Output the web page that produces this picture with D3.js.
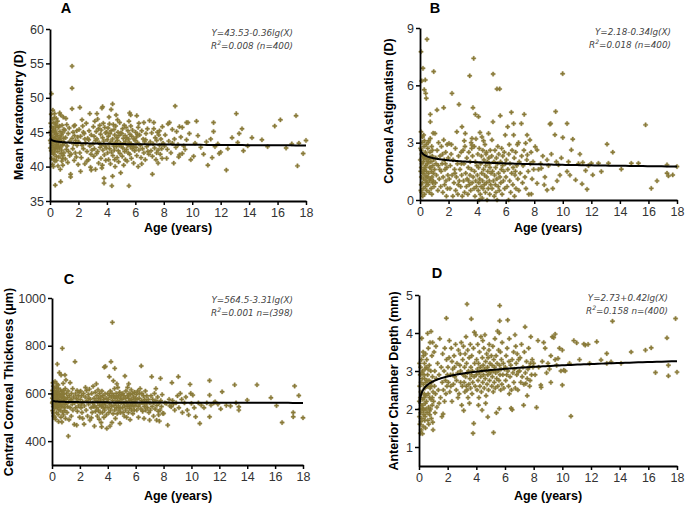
<!DOCTYPE html>
<html><head><meta charset="utf-8">
<script src="https://cdn.jsdelivr.net/npm/d3@7"></script>
<style>body{margin:0;background:#fff}svg{display:block}</style>
</head><body>
<svg id="c" width="685" height="505"></svg>
<script>
// ---------- DATA ----------
const xTicks = [0,2,4,6,8,10,12,14,16,18];
const keratometryTicks = [35,40,45,50,55,60];
const astigmatismTicks = [0,3,6,9];
const thicknessTicks = [400,600,800,1000];
const acdTicks = [1,2,3,4,5];

// regression: Y = a + b*lg(X)
const fitKeratometry = [43.53,-0.36];
const fitAstigmatism = [2.18,-0.34];
const fitThickness = [564.5,-3.31];
const fitAcd = [2.73,0.42];

const noteKeratometry = ["Y=43.53-0.36lg(X)","=0.008 (n=400)"];
const noteAstigmatism = ["Y=2.18-0.34lg(X)","=0.018 (n=400)"];
const noteThickness = ["Y=564.5-3.31lg(X)","=0.001 n=(398)"];
const noteAcd = ["Y=2.73+0.42lg(X)","=0.158 n=(400)"];

const keratometry = [
[0.02,43.8],[0.05,45.1],[0.08,42.3],[0.1,50.6],[0.1,44.6],[0.12,41.2],[0.15,46.9],[0.15,43.1],[0.18,40.3],[0.2,48.2],[0.2,44.2],[0.22,42.8],[0.25,45.6],[0.25,41.8],[0.28,43.5],[0.3,47.1],[0.3,44.9],[0.32,42.1],[0.33,47.7],[0.35,43.9],[0.35,40.8],[0.37,37.3],[0.38,45.3],[0.4,42.6],[0.4,44.4],[0.42,46.2],[0.44,41.5],[0.45,43.2],[0.47,44.8],[0.48,42.9],[0.05,46.3],[0.07,43.4],[0.12,45.8],[0.17,42.0],[0.22,43.6],[0.27,46.4],[0.3,41.0],[0.36,44.1],[0.41,45.9],[0.46,40.9],[0.03,42.7],[0.09,47.6],[0.14,44.0],[0.19,45.2],[0.24,40.0],[0.29,42.5],[0.34,45.0],[0.39,43.0],[0.44,47.0],[0.49,43.7],
[0.52,44.5],[0.55,42.2],[0.56,40.1],[0.58,45.7],[0.6,43.3],[0.62,41.4],[0.65,44.0],[0.68,47.8],[0.68,42.7],[0.7,45.1],[0.72,39.6],[0.75,37.8],[0.75,47.5],[0.75,43.8],[0.78,41.9],[0.8,44.6],[0.82,42.4],[0.85,46.0],[0.88,43.1],[0.9,40.2],[0.9,44.9],[0.92,41.6],[0.95,43.5],[0.97,45.4],[0.98,42.0],[0.53,46.6],[0.63,43.9],[0.73,44.3],[0.83,40.8],[0.93,47.2],[0.57,42.8],[0.67,45.9],[0.77,43.0],[0.87,41.2],[0.97,44.1],
[1.02,43.4],[1.05,45.3],[1.08,41.1],[1.1,44.2],[1.15,42.5],[1.18,46.1],[1.2,43.0],[1.25,40.6],[1.28,44.8],[1.3,42.2],[1.35,45.6],[1.4,43.7],[1.45,38.9],[1.45,38.5],[1.48,41.8],[1.55,54.6],[1.55,51.4],[1.55,48.4],[1.55,44.1],[1.6,42.6],[1.62,45.0],[1.65,43.3],[1.7,40.9],[1.72,44.5],[1.75,46.0],[1.78,42.0],[1.8,43.8],[1.85,41.4],[1.88,45.2],[1.9,43.1],[1.95,44.3],[1.98,40.3],[1.12,47.0],[1.38,41.6],[1.68,45.9],
[2.02,43.6],[2.05,45.4],[2.1,48.6],[2.1,42.0],[2.15,44.4],[2.2,41.3],[2.25,43.1],[2.3,45.9],[2.35,42.6],[2.4,44.8],[2.45,40.4],[2.5,43.4],[2.55,46.3],[2.6,42.2],[2.65,44.1],[2.7,41.0],[2.75,45.2],[2.8,47.7],[2.8,43.0],[2.85,39.9],[2.9,39.5],[2.9,44.6],[2.95,42.4],[2.25,46.8],[2.45,44.0],[2.6,40.8],[2.72,43.9],[2.15,39.3],[2.35,45.0],[2.88,41.8],
[3.02,43.3],[3.05,45.8],[3.08,41.5],[3.1,44.4],[3.12,42.6],[3.15,46.6],[3.2,39.6],[3.2,43.8],[3.25,45.1],[3.28,41.9],[3.3,47.7],[3.3,44.0],[3.35,42.2],[3.4,45.5],[3.42,40.5],[3.45,43.5],[3.5,46.0],[3.52,42.8],[3.55,44.7],[3.58,41.2],[3.6,45.3],[3.62,43.1],[3.65,39.8],[3.65,48.5],[3.7,48.7],[3.7,44.2],[3.72,42.4],[3.75,46.3],[3.78,43.7],[3.8,38.3],[3.8,37.6],[3.82,41.7],[3.85,45.7],[3.88,43.0],[3.9,44.9],[3.92,40.9],[3.95,42.7],[3.98,45.0],[3.35,46.9],[3.68,40.2],
[4.02,43.9],[4.05,42.0],[4.08,45.6],[4.1,44.4],[4.12,41.0],[4.15,43.2],[4.18,46.2],[4.2,42.6],[4.22,44.8],[4.25,40.4],[4.28,43.6],[4.3,48.3],[4.3,45.2],[4.32,42.1],[4.35,37.2],[4.4,49.1],[4.4,38.6],[4.4,44.0],[4.42,41.6],[4.45,46.1],[4.48,43.0],[4.5,45.4],[4.52,42.4],[4.55,44.6],[4.58,40.0],[4.6,43.5],[4.62,45.9],[4.65,47.5],[4.66,42.9],[4.7,44.2],[4.72,41.3],[4.75,43.8],[4.78,45.0],[4.8,42.3],[4.82,40.7],[4.85,44.5],[4.88,43.1],[4.9,46.4],[4.92,41.9],[4.95,43.4],[4.97,39.1],[4.98,44.9],[4.15,47.2],[4.55,41.0],[4.75,46.8],
[5.02,43.0],[5.05,44.8],[5.08,41.5],[5.1,45.5],[5.12,42.7],[5.15,44.1],[5.18,40.2],[5.2,43.4],[5.22,46.0],[5.25,42.2],[5.28,44.5],[5.3,41.0],[5.32,43.7],[5.35,45.7],[5.38,42.5],[5.4,44.2],[5.42,40.8],[5.45,43.1],[5.48,45.2],[5.5,42.0],[5.52,44.0],[5.55,37.2],[5.55,46.6],[5.58,43.5],[5.6,47.8],[5.6,41.8],[5.62,44.7],[5.65,42.9],[5.67,47.5],[5.68,45.9],[5.7,43.3],[5.72,41.2],[5.75,44.4],[5.78,42.6],[5.8,45.3],[5.85,43.0],[5.88,40.5],[5.9,44.0],[5.95,42.3],[5.98,43.8],
[6.02,45.0],[6.05,42.8],[6.08,44.3],[6.1,41.6],[6.1,47.4],[6.15,43.5],[6.2,40.0],[6.2,45.7],[6.25,42.4],[6.3,44.6],[6.35,43.1],[6.4,41.3],[6.45,45.2],[6.5,42.6],[6.55,44.0],[6.6,46.4],[6.6,42.0],[6.65,43.6],[6.7,41.0],[6.75,44.8],[6.8,42.9],[6.85,45.5],[6.9,43.2],[6.95,41.8],[7.0,46.7],[6.25,46.3],[6.45,40.4],[6.72,43.9],[6.88,42.2],[6.15,44.7],
[7.05,43.6],[7.1,42.3],[7.15,44.9],[7.2,38.9],[7.2,41.5],[7.25,43.3],[7.3,45.5],[7.35,42.7],[7.4,44.2],[7.45,41.0],[7.5,43.8],[7.55,45.0],[7.6,40.5],[7.6,42.4],[7.65,44.6],[7.7,43.1],[7.75,41.8],[7.8,44.0],[7.85,42.6],[7.9,45.8],[7.95,43.4],[7.3,46.4],[7.5,42.0],[7.7,45.2],[7.88,41.2],
[8.05,43.0],[8.1,44.6],[8.2,41.2],[8.25,42.5],[8.3,46.2],[8.35,43.7],[8.4,46.4],[8.5,42.0],[8.6,45.4],[8.6,43.4],[8.7,40.5],[8.75,44.0],[8.8,48.8],[8.85,42.8],[8.9,45.1],[9.0,43.2],[9.05,41.4],[9.1,45.8],[9.1,41.7],[9.2,44.3],[9.3,45.7],[9.3,41.9],[9.4,43.0],[9.5,42.5],[9.6,46.4],[9.6,43.9],[9.7,46.4],[9.8,44.8],[9.9,41.0],
[10.1,41.5],[10.2,43.4],[10.3,46.6],[10.4,44.5],[10.6,42.8],[10.8,41.8],[11.0,43.6],[11.1,40.2],[11.3,44.0],[11.4,41.3],[11.5,46.4],[11.5,45.1],[11.6,42.9],[11.8,43.3],[11.9,41.9],[12.0,42.1],
[12.4,39.5],[12.5,42.6],[12.8,44.2],[13.1,47.7],[13.2,43.5],[13.3,44.8],[13.5,45.5],[13.6,42.3],[13.9,43.0],
[14.2,44.2],[14.9,43.9],[15.3,42.9],[15.8,45.9],[16.2,46.8],[16.6,42.7],[17.0,43.3],[17.3,47.4],[17.4,40.1],[17.5,43.4],[17.8,41.9],[18.0,43.8]
];

const astigmatism = [
[0.02,2.1],[0.05,1.5],[0.07,7.76],[0.07,3.57],[0.08,0.8],[0.1,2.6],[0.1,1.2],[0.12,6.23],[0.12,0.4],[0.14,1.9],[0.15,3.0],[0.16,0.9],[0.18,2.3],[0.2,1.4],[0.21,6.89],[0.22,0.6],[0.24,2.0],[0.26,3.4],[0.26,1.1],[0.28,2.8],[0.3,5.77],[0.3,1.6],[0.32,0.3],[0.34,2.2],[0.35,1.3],[0.37,6.28],[0.37,2.5],[0.38,0.7],[0.4,5.58],[0.4,1.8],[0.42,1.0],[0.44,5.32],[0.44,2.9],[0.45,1.5],[0.47,0.5],[0.48,2.1],[0.49,8.41],[0.49,1.2],[0.04,2.7],[0.09,1.7],[0.13,2.4],[0.19,0.2],[0.23,1.5],[0.27,2.2],[0.31,3.1],[0.36,1.7],[0.41,2.4],[0.46,0.9],[0.06,0.5],[0.17,3.3],
[0.52,1.9],[0.55,2.7],[0.57,0.8],[0.6,1.4],[0.62,3.1],[0.64,2.2],[0.65,0.4],[0.68,1.7],[0.7,2.5],[0.72,4.48],[0.72,4.09],[0.72,3.22],[0.74,1.1],[0.76,2.0],[0.78,0.6],[0.8,1.5],[0.82,2.8],[0.84,1.2],[0.86,2.3],[0.88,0.9],[0.9,1.8],[0.92,3.5],[0.94,1.4],[0.96,6.72],[0.96,2.1],[0.98,0.7],[0.54,1.2],[0.59,2.0],[0.66,1.0],[0.75,1.7],[0.83,0.3],[0.87,2.6],[0.93,1.0],[0.58,3.0],[0.69,2.2],
[1.02,1.6],[1.05,3.48],[1.08,0.9],[1.1,2.2],[1.15,1.3],[1.19,4.71],[1.2,2.6],[1.25,0.5],[1.28,1.8],[1.3,3.0],[1.35,1.1],[1.4,2.3],[1.45,0.7],[1.48,1.5],[1.5,2.8],[1.55,1.9],[1.6,0.4],[1.62,1.2],[1.66,4.83],[1.66,3.14],[1.7,2.1],[1.72,0.8],[1.75,1.6],[1.8,2.5],[1.82,1.0],[1.85,0.2],[1.88,1.7],[1.9,2.9],[1.95,1.3],[1.98,2.2],[1.12,1.9],[1.38,1.6],[1.58,2.4],[1.78,1.9],[1.92,0.6],
[2.03,2.96],[2.05,1.1],[2.1,0.6],[2.12,1.8],[2.18,2.4],[2.24,5.58],[2.25,1.3],[2.3,0.2],[2.32,2.1],[2.38,0.9],[2.42,1.6],[2.48,2.7],[2.5,0.5],[2.55,1.2],[2.58,3.57],[2.62,1.9],[2.65,0.3],[2.7,2.3],[2.73,5.0],[2.75,1.0],[2.8,1.6],[2.85,0.7],[2.88,2.5],[2.92,1.3],[2.94,3.83],[2.96,0.2],[2.2,2.9],[2.45,1.4],[2.68,0.8],[2.9,1.9],
[3.02,2.6],[3.05,1.0],[3.08,1.9],[3.12,0.4],[3.15,2.8],[3.17,3.48],[3.2,1.4],[3.25,0.7],[3.28,2.2],[3.3,1.1],[3.35,0.3],[3.38,1.7],[3.42,2.5],[3.45,0.8],[3.48,6.5],[3.5,1.3],[3.52,2.0],[3.55,0.5],[3.58,3.0],[3.6,1.6],[3.64,3.22],[3.64,2.87],[3.65,0.9],[3.68,2.3],[3.71,4.83],[3.72,1.2],[3.76,7.41],[3.78,0.6],[3.8,2.8],[3.82,1.5],[3.85,0.2],[3.88,4.48],[3.88,2.0],[3.9,1.0],[3.92,3.2],[3.95,0.7],[3.98,1.8],[3.1,3.1],[3.4,1.0],[3.62,2.7],
[4.02,1.3],[4.05,2.4],[4.08,0.5],[4.1,4.36],[4.1,1.7],[4.12,0.9],[4.15,2.7],[4.18,1.1],[4.2,3.53],[4.22,0.3],[4.25,1.9],[4.28,0.7],[4.3,2.3],[4.32,1.4],[4.34,3.3],[4.35,0.1],[4.38,1.0],[4.4,2.6],[4.42,0.6],[4.45,1.6],[4.48,2.1],[4.5,0.8],[4.52,1.3],[4.55,2.9],[4.58,0.4],[4.6,1.8],[4.62,2.4],[4.65,0.9],[4.68,1.2],[4.7,0.0],[4.72,2.0],[4.75,1.5],[4.78,0.6],[4.8,3.48],[4.82,2.2],[4.85,1.0],[4.88,0.3],[4.9,1.7],[4.92,2.6],[4.95,0.8],[4.98,1.4],[4.15,0.0],[4.45,3.1],[4.65,2.5],[4.85,1.9],
[5.02,2.3],[5.04,3.14],[5.05,0.6],[5.08,1.5],[5.11,4.09],[5.12,6.59],[5.14,1.0],[5.18,2.0],[5.2,0.2],[5.22,1.3],[5.25,2.6],[5.28,0.8],[5.3,1.7],[5.32,0.4],[5.35,2.2],[5.38,1.1],[5.39,5.81],[5.4,0.0],[5.42,1.9],[5.45,2.8],[5.48,0.7],[5.5,1.4],[5.52,2.4],[5.55,0.5],[5.58,5.81],[5.6,1.2],[5.62,4.41],[5.64,2.0],[5.66,0.9],[5.7,1.6],[5.72,2.7],[5.75,0.3],[5.78,1.8],[5.8,2.3],[5.84,1.0],[5.88,1.5],[5.9,2.5],[5.93,0.6],[5.97,3.4],[5.98,1.9],
[6.02,1.2],[6.05,2.1],[6.1,0.7],[6.14,3.83],[6.15,1.6],[6.2,0.0],[6.22,2.4],[6.28,1.0],[6.3,1.9],[6.35,0.4],[6.4,4.59],[6.42,1.4],[6.45,2.6],[6.5,0.8],[6.52,1.7],[6.56,4.0],[6.56,3.4],[6.6,2.2],[6.62,0.2],[6.65,1.3],[6.7,2.5],[6.72,0.6],[6.78,1.8],[6.82,2.9],[6.85,1.1],[6.9,3.0],[6.92,0.5],[6.95,2.0],[6.25,2.9],[6.68,1.5],
[7.02,1.4],[7.1,4.0],[7.12,2.3],[7.18,0.9],[7.22,1.8],[7.28,2.6],[7.3,4.48],[7.35,1.2],[7.4,2.97],[7.42,0.6],[7.48,2.1],[7.5,3.4],[7.52,2.36],[7.58,1.5],[7.62,0.3],[7.7,3.14],[7.72,1.9],[7.78,2.5],[7.8,0.31],[7.85,1.1],[7.92,2.0],[7.96,1.6],
[8.07,2.79],[8.2,2.62],[8.2,0.87],[8.3,1.6],[8.45,1.9],[8.5,1.66],[8.6,2.3],[8.7,0.79],[8.75,1.2],[8.9,2.1],[8.9,0.52],[9.0,1.8],[9.1,3.97],[9.15,4.0],[9.2,2.4],[9.3,0.6],[9.45,3.41],[9.5,4.63],[9.55,2.0],[9.7,1.84],[9.8,1.3],[9.99,6.61],[10.0,3.27],[9.9,2.2],[9.6,1.0],
[10.3,4.0],[10.3,1.49],[10.4,2.0],[10.6,2.62],[10.7,3.18],[10.9,1.05],[11.1,1.9],[11.35,0.84],[11.4,1.96],[11.6,1.54],[11.7,0.56],[11.8,1.8],[12.0,1.92],[10.5,1.3],[11.2,2.4],
[12.1,1.31],[12.5,1.92],[12.7,1.49],[13.1,2.92],[13.2,1.92],[13.5,2.5],[14.1,1.61],[14.8,1.92],[15.3,1.92],[15.8,3.93],[16.2,0.61],[16.6,1.0],[17.3,1.4],[17.3,1.84],[17.4,1.26],[17.7,1.31],[18.0,1.75]
];

const thickness = [
[0.02,560],[0.04,612],[0.05,528],[0.07,645],[0.08,590],[0.1,545],[0.1,630],[0.12,575],[0.13,505],[0.15,600],[0.16,555],[0.18,620],[0.2,538],[0.21,585],[0.22,650],[0.24,568],[0.25,492],[0.27,605],[0.28,548],[0.3,595],[0.31,625],[0.33,520],[0.35,578],[0.36,610],[0.38,723],[0.38,542],[0.4,590],[0.41,560],[0.43,635],[0.44,512],[0.45,621],[0.46,575],[0.48,598],[0.49,532],[0.03,580],[0.06,565],[0.09,598],[0.11,518],[0.14,572],[0.17,588],[0.19,500],[0.23,602],[0.26,560],[0.29,582],[0.32,548],[0.34,640],[0.37,565],[0.42,548],[0.47,482],[0.49,570],
[0.51,600],[0.53,687],[0.54,555],[0.56,590],[0.58,530],[0.6,615],[0.62,565],[0.64,500],[0.65,677],[0.66,582],[0.68,545],[0.7,608],[0.72,570],[0.74,789],[0.75,522],[0.77,595],[0.78,555],[0.8,642],[0.8,585],[0.82,510],[0.84,568],[0.86,600],[0.88,540],[0.9,580],[0.93,677],[0.94,555],[0.95,620],[0.97,495],[0.99,575],[0.57,548],[0.63,590],[0.71,480],[0.83,612],[0.92,528],
[1.0,656],[1.02,560],[1.05,598],[1.08,520],[1.1,582],[1.12,545],[1.17,421],[1.15,610],[1.2,565],[1.22,490],[1.25,590],[1.3,645],[1.3,540],[1.35,575],[1.38,505],[1.4,600],[1.45,555],[1.48,620],[1.5,530],[1.55,585],[1.6,470],[1.62,560],[1.65,733],[1.68,598],[1.7,540],[1.75,578],[1.77,467],[1.8,612],[1.82,525],[1.85,565],[1.88,590],[1.9,548],[1.95,605],[1.98,500],[1.4,572],
[2.02,575],[2.05,610],[2.08,540],[2.12,590],[2.15,520],[2.2,565],[2.25,600],[2.3,471],[2.32,548],[2.38,585],[2.4,625],[2.45,530],[2.5,570],[2.55,505],[2.6,595],[2.62,555],[2.68,618],[2.72,488],[2.75,575],[2.8,540],[2.85,600],[2.88,520],[2.92,560],[2.95,630],[2.98,545],[2.2,495],[2.48,612],[2.65,580],[2.82,498],[2.1,555],
[3.02,580],[3.04,463],[3.06,548],[3.1,605],[3.12,525],[3.15,570],[3.18,640],[3.2,540],[3.22,590],[3.25,505],[3.28,562],[3.3,615],[3.32,530],[3.35,578],[3.38,492],[3.4,550],[3.42,600],[3.45,520],[3.48,568],[3.5,585],[3.52,478],[3.55,545],[3.56,460],[3.58,610],[3.6,555],[3.62,520],[3.65,590],[3.68,540],[3.7,575],[3.72,500],[3.75,710],[3.75,560],[3.78,530],[3.8,598],[3.83,713],[3.85,548],[3.88,580],[3.9,510],[3.93,453],[3.96,565],
[4.0,600],[4.02,540],[4.05,575],[4.08,520],[4.11,670],[4.12,590],[4.15,555],[4.16,463],[4.18,610],[4.2,530],[4.23,733],[4.25,585],[4.28,545],[4.3,600],[4.33,898],[4.35,570],[4.38,515],[4.4,653],[4.42,590],[4.45,550],[4.48,620],[4.5,705],[4.5,530],[4.52,580],[4.55,495],[4.58,560],[4.6,600],[4.62,540],[4.65,585],[4.68,515],[4.7,570],[4.72,625],[4.75,548],[4.78,590],[4.8,530],[4.82,565],[4.85,605],[4.87,474],[4.88,540],[4.9,580],[4.92,520],[4.95,560],[4.98,595],[4.3,478],[4.65,640],
[5.02,575],[5.05,540],[5.08,600],[5.1,520],[5.12,560],[5.15,590],[5.18,505],[5.2,548],[5.23,673],[5.25,580],[5.28,530],[5.3,610],[5.32,565],[5.35,500],[5.38,545],[5.4,590],[5.42,625],[5.45,555],[5.48,520],[5.5,580],[5.52,600],[5.55,538],[5.58,570],[5.6,490],[5.62,595],[5.65,550],[5.68,615],[5.7,530],[5.72,575],[5.75,560],[5.78,600],[5.8,515],[5.82,545],[5.85,585],[5.88,565],[5.9,530],[5.92,605],[5.95,550],[5.98,578],[5.5,640],
[6.02,560],[6.05,595],[6.08,530],[6.1,575],[6.15,610],[6.18,545],[6.2,500],[6.25,580],[6.3,555],[6.32,620],[6.38,535],[6.4,715],[6.42,570],[6.45,600],[6.5,525],[6.52,560],[6.55,590],[6.6,495],[6.62,545],[6.65,575],[6.7,610],[6.72,530],[6.78,565],[6.8,590],[6.85,540],[6.9,575],[6.95,520],[7.0,488],[6.28,600],[6.75,555],
[7.02,560],[7.05,530],[7.1,590],[7.15,670],[7.18,545],[7.22,575],[7.28,505],[7.3,560],[7.35,600],[7.4,535],[7.45,570],[7.5,488],[7.52,550],[7.58,585],[7.62,525],[7.68,560],[7.7,484],[7.75,530],[7.78,663],[7.8,570],[7.85,545],[7.9,595],[7.95,516],[7.45,620],[7.65,510],
[8.0,516],[8.1,560],[8.2,558],[8.3,467],[8.4,575],[8.55,544],[8.6,645],[8.65,570],[8.7,555],[8.8,530],[8.9,560],[9.06,670],[9.1,540],[9.2,600],[9.3,575],[9.35,520],[9.5,560],[9.7,530],[9.8,510],[9.9,638],[9.95,600],[10.0,558],[9.6,585],[9.0,590],[8.45,548],
[10.1,593],[10.2,540],[10.3,502],[10.5,560],[10.6,474],[10.7,551],[10.9,540],[11.1,560],[11.3,654],[11.3,593],[11.3,502],[11.4,551],[11.6,560],[11.7,565],[11.9,555],[12.1,535],[12.2,607],
[12.5,550],[12.8,547],[13.1,636],[13.2,560],[13.4,544],[13.4,530],[14.0,572],[14.7,636],[15.7,582],[16.1,549],[16.5,478],[17.3,520],[17.3,502],[17.4,631],[17.7,591],[18.0,498]
];

const acd = [
[0.02,2.2],[0.03,1.8],[0.05,2.6],[0.06,1.6],[0.08,2.9],[0.09,1.36],[0.1,2.3],[0.11,3.1],[0.12,1.9],[0.14,1.67],[0.14,2.7],[0.15,2.1],[0.17,3.3],[0.18,2.4],[0.19,3.86],[0.2,1.75],[0.22,2.8],[0.23,2.0],[0.24,1.35],[0.25,3.0],[0.27,2.25],[0.28,1.55],[0.3,2.65],[0.31,3.4],[0.33,2.0],[0.34,1.85],[0.35,2.9],[0.37,2.4],[0.38,3.2],[0.4,1.7],[0.41,2.55],[0.42,3.05],[0.44,2.15],[0.45,1.5],[0.46,3.45],[0.48,2.7],[0.49,2.0],[0.04,3.2],[0.07,2.0],[0.13,2.45],[0.16,1.45],[0.21,2.95],[0.26,2.1],[0.29,3.5],[0.32,1.95],[0.36,2.3],[0.39,2.8],[0.43,1.8],[0.47,2.35],[0.5,3.1],
[0.52,2.2],[0.54,3.3],[0.56,1.9],[0.58,2.6],[0.6,3.99],[0.6,2.9],[0.62,1.7],[0.64,2.4],[0.65,3.6],[0.67,2.05],[0.68,1.6],[0.7,2.75],[0.72,3.15],[0.74,2.3],[0.75,1.85],[0.77,3.75],[0.78,2.55],[0.8,2.0],[0.82,3.0],[0.84,4.04],[0.84,2.25],[0.86,1.75],[0.88,2.7],[0.9,3.4],[0.92,2.1],[0.94,2.85],[0.95,3.75],[0.96,1.65],[0.98,1.45],[0.98,2.45],[0.55,2.75],[0.63,3.05],[0.73,1.95],[0.83,2.6],[0.93,2.3],
[1.02,2.2],[1.05,3.5],[1.08,2.6],[1.1,3.0],[1.15,2.4],[1.18,3.65],[1.2,2.8],[1.25,2.05],[1.3,3.2],[1.35,2.5],[1.4,2.9],[1.45,3.85],[1.5,2.3],[1.55,3.1],[1.6,1.8],[1.62,2.7],[1.65,3.45],[1.68,1.87],[1.7,2.5],[1.75,3.0],[1.78,2.2],[1.8,3.6],[1.85,2.75],[1.88,2.4],[1.91,4.39],[1.92,3.3],[1.95,2.6],[1.98,2.9],[1.4,2.15],[1.12,1.9],
[2.02,3.1],[2.05,2.7],[2.1,3.35],[2.15,2.45],[2.2,2.9],[2.25,3.6],[2.3,2.2],[2.35,3.05],[2.4,2.65],[2.45,3.4],[2.5,2.85],[2.55,3.7],[2.6,2.5],[2.65,3.2],[2.7,2.95],[2.75,3.55],[2.8,2.4],[2.85,3.15],[2.9,2.7],[2.95,3.75],[2.98,2.1],[2.12,3.8],[2.38,2.9],[2.62,2.75],[2.88,3.45],[2.22,2.6],[2.48,3.1],[2.72,2.3],[2.9,3.0],[2.3,3.25],
[3.02,2.6],[3.05,3.3],[3.08,2.9],[3.1,3.65],[3.12,1.96],[3.15,2.7],[3.18,3.1],[3.2,2.45],[3.22,3.45],[3.25,2.85],[3.28,3.9],[3.3,2.6],[3.32,3.2],[3.35,4.76],[3.35,2.5],[3.38,2.95],[3.4,3.55],[3.42,2.3],[3.45,3.0],[3.48,2.65],[3.5,3.35],[3.52,2.15],[3.55,2.8],[3.58,3.7],[3.6,2.55],[3.62,3.1],[3.65,4.37],[3.65,2.9],[3.68,3.4],[3.7,2.4],[3.72,3.0],[3.75,2.7],[3.77,1.36],[3.8,3.6],[3.82,1.62],[3.85,2.85],[3.86,4.02],[3.88,3.2],[3.92,2.6],[3.96,3.95],
[4.0,2.9],[4.02,3.3],[4.05,2.5],[4.08,3.05],[4.1,3.7],[4.12,2.75],[4.15,3.2],[4.18,2.3],[4.2,2.95],[4.22,3.5],[4.25,2.6],[4.28,3.1],[4.3,2.85],[4.32,3.9],[4.35,2.45],[4.38,3.0],[4.4,1.97],[4.42,3.35],[4.45,2.7],[4.48,3.15],[4.5,2.9],[4.52,3.6],[4.55,2.55],[4.58,3.05],[4.6,3.95],[4.62,2.8],[4.65,3.25],[4.68,2.35],[4.7,3.0],[4.72,3.45],[4.75,2.65],[4.78,3.1],[4.8,1.79],[4.8,2.9],[4.82,3.35],[4.85,2.5],[4.88,3.0],[4.9,3.7],[4.92,2.75],[4.95,3.2],[4.98,2.95],[4.15,2.1],[4.45,3.8],[4.65,2.15],[4.88,3.55],
[5.02,3.0],[5.05,3.4],[5.08,2.6],[5.1,3.15],[5.12,2.85],[5.15,3.65],[5.18,2.45],[5.2,1.38],[5.2,3.0],[5.22,3.3],[5.25,2.7],[5.28,3.1],[5.3,3.85],[5.32,2.55],[5.35,2.95],[5.38,3.4],[5.4,1.9],[5.42,2.8],[5.45,3.2],[5.48,4.05],[5.5,2.6],[5.52,3.0],[5.55,3.55],[5.58,2.75],[5.6,4.0],[5.6,2.01],[5.62,3.15],[5.63,4.72],[5.63,4.32],[5.65,2.9],[5.68,3.5],[5.7,2.5],[5.72,3.05],[5.75,3.3],[5.78,2.65],[5.8,3.75],[5.85,2.9],[5.88,3.2],[5.92,2.55],[5.96,3.05],
[6.02,3.1],[6.05,2.75],[6.08,3.4],[6.12,2.9],[6.15,3.6],[6.19,4.34],[6.2,3.0],[6.25,2.6],[6.28,3.25],[6.3,3.85],[6.35,2.85],[6.4,3.15],[6.43,2.02],[6.45,2.5],[6.5,1.98],[6.5,3.3],[6.55,2.95],[6.6,3.5],[6.62,2.7],[6.65,3.05],[6.7,3.95],[6.72,2.55],[6.78,3.2],[6.82,2.9],[6.85,3.45],[6.9,2.5],[6.92,2.98],[6.95,3.3],[6.3,2.4],[6.75,3.65],
[7.02,3.0],[7.05,3.35],[7.1,2.7],[7.15,3.7],[7.2,2.85],[7.25,3.1],[7.3,2.1],[7.32,2.65],[7.35,3.5],[7.4,4.16],[7.42,2.95],[7.45,2.67],[7.5,3.25],[7.55,2.8],[7.6,3.05],[7.65,3.6],[7.7,3.11],[7.72,2.6],[7.78,3.2],[7.8,3.9],[7.85,2.9],[7.9,3.3],[7.95,3.1],[7.55,2.35],[7.75,2.75],
[8.0,3.2],[8.1,2.9],[8.2,2.04],[8.3,3.8],[8.35,3.1],[8.5,2.63],[8.52,2.57],[8.6,3.25],[8.7,3.75],[8.8,3.6],[8.9,2.95],[9.0,3.2],[9.1,3.05],[9.2,3.4],[9.3,3.9],[9.4,3.88],[9.5,3.97],[9.5,3.3],[9.6,3.15],[9.7,3.33],[9.8,3.6],[9.9,3.0],[10.0,3.55],[10.0,2.63],[9.2,2.7],
[10.1,3.02],[10.2,3.0],[10.5,3.2],[10.6,1.81],[10.8,3.8],[11.0,3.74],[11.2,3.3],[11.5,3.71],[11.6,3.68],[11.8,3.7],[11.9,3.2],
[12.4,3.77],[12.7,3.29],[13.1,3.46],[13.1,3.2],[13.4,3.24],[13.5,4.31],[14.1,3.2],[14.8,3.5],[15.8,3.55],[16.2,3.61],[16.5,2.96],[17.3,3.87],[17.4,2.87],[17.4,3.15],[17.9,4.38],[18.0,2.97]
];

// ---------- LAYOUT ----------
const panels = [
  {letter:"A", data:keratometry, fit:fitKeratometry, note:noteKeratometry, yTicks:keratometryTicks, yDomain:[35,60],
   ylabel:"Mean Keratometry (D)", x0:50, x1:306, y0:201, y1:29, lx:66, ly:13, nx:293, ny:36, ylx:18, yly:115, xlx:178, xly:232},
  {letter:"B", data:astigmatism, fit:fitAstigmatism, note:noteAstigmatism, yTicks:astigmatismTicks, yDomain:[0,9],
   ylabel:"Corneal Astigmatism (D)", x0:420, x1:677, y0:200, y1:28, lx:435, ly:13, nx:671, ny:35, ylx:388, yly:111, xlx:548, xly:232},
  {letter:"C", data:thickness, fit:fitThickness, note:noteThickness, yTicks:thicknessTicks, yDomain:[300,1000],
   ylabel:"Central Corneal Thickness (μm)", x0:52, x1:303, y0:465, y1:298, lx:69, ly:284, nx:293, ny:303, ylx:8, yly:382, xlx:178, xly:500},
  {letter:"D", data:acd, fit:fitAcd, note:noteAcd, yTicks:acdTicks, yDomain:[0.5,5],
   ylabel:"Anterior Chamber Depth (mm)", x0:419, x1:677, y0:466, y1:295, lx:437, ly:278, nx:668, ny:301, ylx:393, yly:381, xlx:548, xly:500}
];

const svg = d3.select("#c");
const FONT = "'Liberation Sans', Arial, sans-serif";
const ptColor = "#8a7b3a";
const sym = d3.symbol().type(d3.symbolCross).size(10);

panels.forEach(p => {
  const x = d3.scaleLinear().domain([0,18]).range([p.x0,p.x1]);
  const y = d3.scaleLinear().domain(p.yDomain).range([p.y0,p.y1]);
  const g = svg.append("g");

  // points
  g.append("g").selectAll("path").data(p.data).join("path")
    .attr("d", sym)
    .attr("transform", d => `translate(${x(d[0])},${y(d[1])})`)
    .attr("fill", ptColor).attr("stroke", ptColor).attr("stroke-width", 0.4);

  // fitted curve
  const xs = d3.range(0, 301).map(i => 0.04 * Math.pow(18/0.04, i/300));
  const line = d3.line().x(v => x(v)).y(v => y(p.fit[0] + p.fit[1]*Math.log10(v)));
  g.append("path").datum(xs).attr("d", line).attr("fill","none").attr("stroke","#000").attr("stroke-width",2);

  // axes
  const xa = g.append("g").attr("transform",`translate(0,${p.y0})`)
    .call(d3.axisBottom(x).tickValues(xTicks).tickFormat(d => String(d)).tickSize(4).tickSizeOuter(0).tickPadding(3));
  const ya = g.append("g").attr("transform",`translate(${p.x0},0)`)
    .call(d3.axisLeft(y).tickValues(p.yTicks).tickFormat(d => String(d)).tickSize(4).tickSizeOuter(0).tickPadding(2));
  [xa,ya].forEach(a => {
    a.select(".domain").attr("stroke","#000").attr("stroke-width",1.8);
    a.selectAll(".tick line").attr("stroke","#000").attr("stroke-width",1.5);
    a.selectAll(".tick text").attr("fill","#333").style("font-family",FONT).style("font-size","12.5px");
  });

  // letter
  g.append("text").attr("x",p.lx).attr("y",p.ly).attr("text-anchor","middle")
    .style("font-family",FONT).style("font-weight","bold").style("font-size","14.5px").text(p.letter);

  // axis labels
  g.append("text").attr("x",p.xlx).attr("y",p.xly).attr("text-anchor","middle")
    .style("font-family",FONT).style("font-weight","bold").style("font-size","12.5px").text("Age (years)");
  g.append("text").attr("transform",`translate(${p.ylx+4.5},${p.yly}) rotate(-90)`).attr("text-anchor","middle")
    .style("font-family",FONT).style("font-weight","bold").style("font-size","12.5px").text(p.ylabel);

  // annotation
  const nt = g.append("g").style("font-family","'DejaVu Sans', sans-serif").style("font-style","italic")
    .style("font-size","8.8px").attr("fill","#444");
  nt.append("text").attr("x",p.nx).attr("y",p.ny).attr("text-anchor","end").text(p.note[0]);
  const t2 = nt.append("text").attr("x",p.nx).attr("y",p.ny+13).attr("text-anchor","end");
  t2.append("tspan").text("R");
  t2.append("tspan").attr("dy",-4).style("font-size","6px").text("2");
  t2.append("tspan").attr("dy",4).text(p.note[1]);
});
</script>
</body></html>
